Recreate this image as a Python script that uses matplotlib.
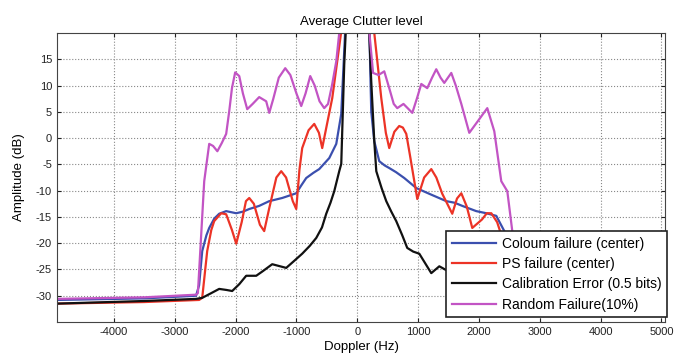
import matplotlib
matplotlib.use('Agg')
import matplotlib.pyplot as plt
import numpy as np

plt.rcParams['font.family'] = ['Liberation Sans', 'DejaVu Sans']
plt.rcParams['axes.unicode_minus'] = False

# Coloum failure (center)
blue_f = [-4937, -3500, -2650, -2600, -2549, -2480, -2434, -2350, -2270, -2155, -1990, -1880,
          -1776, -1612, -1447, -1234, -1003, -920, -839, -720, -625, -460, -345, -263, -200,
          0, 200, 230, 280, 362, 450, 526, 640, 773, 970, 1184, 1464, 1600, 1727, 1957, 2122,
          2286, 2418, 2550, 2650, 3500, 5060]
blue_a = [-30.8, -30.5, -30, -28, -21.5, -18.5, -17.1, -15.3, -14.4, -13.9, -14.3, -14.0,
          -13.5, -12.9, -12, -11.4, -10.5, -9.0, -7.6, -6.6, -5.9, -3.8, -1.1, 4.6, 20,
          40, 20, 5.1, -0.6, -4.4, -5.2, -5.7, -6.5, -7.6, -9.5, -10.6, -12, -12.3, -12.9,
          -13.9, -14.3, -14.8, -17.7, -24, -30, -30.5, -31]

# PS failure (center)
red_f = [-4937, -3500, -2600, -2549, -2467, -2400, -2352, -2237, -2155, -2060, -1990, -1900,
         -1830, -1776, -1700, -1600, -1530, -1450, -1330, -1250, -1170, -1060, -1003, -950,
         -905, -800, -707, -630, -576, -500, -411, -263, 0, 280, 395, 470, 526, 610, 690, 750,
         806, 870, 938, 987, 1100, 1217, 1300, 1398, 1562, 1640, 1711, 1800, 1891, 2050, 2130,
         2204, 2300, 2385, 2550, 2650, 3500, 5060]
red_a = [-31.5, -31.2, -30.8, -30.4, -21.5, -17.5, -15.8, -14.3, -14.5, -17.5, -20.1, -16.0,
         -12.0, -11.4, -12.5, -16.5, -17.7, -13.5, -7.5, -6.3, -7.5, -12.0, -13.5, -6.0,
         -1.9, 1.5, 2.7, 1.0, -1.9, 2.5, 7.6, 20.3, 40, 20, 7.6, 1.0, -1.9, 1.2, 2.3, 2.0,
         0.8, -3.5, -8.2, -11.6, -7.5, -5.9, -7.5, -10.6, -14.4, -11.5, -10.5, -13.0, -17.1,
         -15.5, -14.3, -14.3, -16.0, -19, -25, -30.5, -31.2, -31.5]

# Calibration Error (0.5 bits)
black_f = [-4937, -3500, -2650, -2549, -2400, -2270, -2150, -2056, -1940, -1826, -1661, -1550,
           -1398, -1300, -1168, -1050, -905, -780, -674, -580, -510, -440, -378, -296, -263,
           -214, -150, 0, 170, 197, 230, 280, 313, 400, 477, 560, 641, 740, 822, 920, 1020,
           1217, 1349, 1600, 2000, 2650, 3500, 5060]
black_a = [-31.5, -31, -30.6, -30.4, -29.5, -28.7, -28.9, -29.1, -27.8, -26.2, -26.2, -25.3,
           -24, -24.3, -24.7, -23.5, -22, -20.5, -19, -17.0, -14.4, -12.3, -10.1, -6.3, -4.9,
           14, 30, 45, 30, 20, 10.8, -0.6, -6.3, -9.5, -12, -14.0, -15.8, -18.5, -20.9, -21.6,
           -22, -25.7, -24.4, -26, -28, -30.5, -31, -31.5]

# Random Failure(10%)
mag_f = [-4937, -3500, -2650, -2620, -2516, -2434, -2370, -2300, -2230, -2155, -2105, -2060,
         -2007, -1940, -1880, -1809, -1720, -1612, -1497, -1447, -1380, -1290, -1184, -1100,
         -1000, -921, -850, -773, -700, -620, -543, -480, -411, -345, -296, 0, 200, 260, 350,
         444, 526, 600, 658, 760, 905, 980, 1053, 1151, 1230, 1299, 1370, 1431, 1546, 1620,
         1711, 1842, 2000, 2138, 2253, 2368, 2467, 2549, 2650, 3500, 5060]
mag_a = [-30.6, -30.3, -29.8, -29.5, -8.2, -1.1, -1.5, -2.5, -1.0, 0.8, 5.1, 9.5,
         12.5, 11.8, 8.5, 5.5, 6.5, 7.8, 7, 4.8, 7.5, 11.5, 13.3, 12.0, 8.5, 6.1, 8.5, 11.8,
         10.0, 7.0, 5.7, 6.5, 10.3, 14.6, 20, 40, 20, 12.4, 12.0, 12.7, 9.5, 6.5, 5.7, 6.5,
         4.8, 7.5, 10.3, 9.5, 11.5, 13.1, 11.5, 10.5, 12.4, 10.0, 6.5, 1, 3.5, 5.7, 1.3,
         -8.2, -10.1, -17.7, -30, -30.5, -31]

fig = plt.figure(figsize=(6.75, 3.57), dpi=100)
ax = fig.add_axes([0.0844, 0.098, 0.9008, 0.8096])

ax.plot(blue_f, blue_a, color='#3b4fae', lw=1.6, label='Coloum failure (center)')
ax.plot(red_f, red_a, color='#ec3326', lw=1.6, label='PS failure (center)')
ax.plot(black_f, black_a, color='#111111', lw=1.6, label='Calibration Error (0.5 bits)')
ax.plot(mag_f, mag_a, color='#c254c4', lw=1.6, label='Random Failure(10%)')

ax.set_xlim(-4937, 5060)
ax.set_ylim(-35, 20)
ax.set_xticks(np.arange(-4000, 5001, 1000))
ax.set_yticks(np.arange(-30, 16, 5))
ax.tick_params(direction='in', labelsize=8, top=True, right=True, length=3, colors='#222222')
ax.grid(True, linestyle=':', color='#888888', lw=0.8)
for s in ax.spines.values():
    s.set_color('#444444')

ax.set_title('Average Clutter level', fontsize=9.5, pad=6)
ax.set_xlabel('Doppler (Hz)', fontsize=9.5, labelpad=3)
ax.set_ylabel('Amplitude (dB)', fontsize=9.5, labelpad=8)

leg = ax.legend(loc='lower right', bbox_to_anchor=(1.003, 0.017), fontsize=10,
                handlelength=3.2, fancybox=False, framealpha=1, edgecolor='#222222',
                borderpad=0.4, labelspacing=0.45, handletextpad=0.4, borderaxespad=0)
leg.get_frame().set_linewidth(1.2)

fig.savefig('out.png', dpi=100)
